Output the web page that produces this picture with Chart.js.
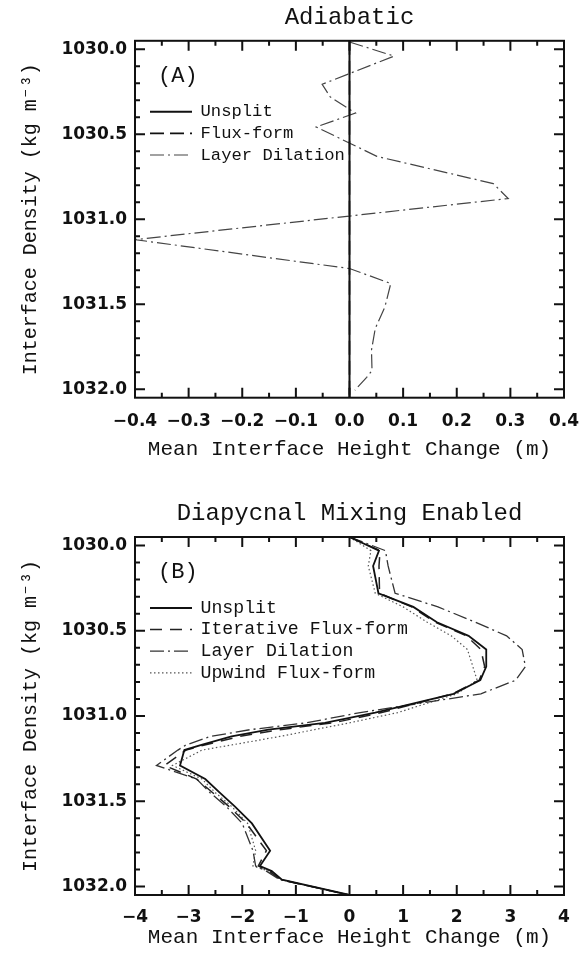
<!doctype html>
<html lang="en">
<head>
<meta charset="utf-8">
<title>Mean interface height change</title>
<script src="https://cdn.jsdelivr.net/npm/chart.js"></script>
<style>
  html, body { margin: 0; padding: 0; background: #fff; }
  .panel { position: absolute; left: 0; }
</style>
</head>
<body>
<div class="panel" style="top:0"><canvas id="chartA" width="585" height="480"></canvas></div>
<div class="panel" style="top:480px"><canvas id="chartB" width="585" height="476"></canvas></div>

<script>
// ---- panel A: adiabatic ----
var zeroDensA = [1029.95, 1032.05];
var unsplitA = [0, 0];
var fluxA = [0, 0];

var densA = [1029.957, 1030.04, 1030.206, 1030.24, 1030.28, 1030.375, 1030.457, 1030.63, 1030.79, 1030.878,
             1031.12, 1031.29, 1031.378, 1031.516, 1031.643, 1031.77, 1031.89, 1031.93, 1032.006];
var dilationA = [0.0, 0.083, -0.051, -0.044, -0.036, 0.011, -0.062, 0.051, 0.268, 0.296,
                 -0.40, 0.0, 0.077, 0.066, 0.048, 0.041, 0.042, 0.032, 0.010];

var xTicksA = [-0.4, -0.3, -0.2, -0.1, 0.0, 0.1, 0.2, 0.3, 0.4];

// ---- panel B: diapycnal mixing enabled ----
var densB = [1029.95, 1030.03, 1030.12, 1030.28, 1030.36, 1030.45, 1030.53, 1030.61, 1030.71, 1030.79,
             1030.87, 1030.98, 1031.04, 1031.08, 1031.12, 1031.17, 1031.20, 1031.29, 1031.37, 1031.45,
             1031.53, 1031.63, 1031.79, 1031.88, 1031.91, 1031.96, 1032.05];
var unsplitB = [0.0, 0.55, 0.44, 0.54, 1.19, 1.63, 2.22, 2.55, 2.55, 2.44,
                1.94, 0.48, -0.46, -1.51, -2.20, -2.76, -3.08, -3.16, -2.69, -2.42,
                -2.14, -1.82, -1.48, -1.67, -1.45, -1.26, 0.0];
var iterativeB = [0.0, 0.57, 0.55, 0.56, 1.16, 1.60, 2.18, 2.45, 2.52, 2.42,
                  1.92, 0.60, -0.30, -1.30, -2.05, -2.70, -3.05, -3.45, -2.85, -2.55,
                  -2.25, -1.92, -1.55, -1.70, -1.50, -1.28, 0.0];
var dilationB = [0.0, 0.67, 0.72, 0.85, 1.65, 2.35, 2.93, 3.22, 3.28, 3.10,
                 2.45, 0.20, -0.80, -1.85, -2.60, -3.05, -3.20, -3.60, -2.85, -2.60,
                 -2.30, -2.00, -1.80, -1.75, -1.55, -1.30, 0.0];
var upwindB = [0.0, 0.40, 0.35, 0.48, 1.00, 1.45, 1.90, 2.20, 2.30, 2.38,
               2.00, 0.90, 0.00, -0.65, -1.30, -2.20, -2.75, -3.30, -2.75, -2.50,
               -2.20, -1.90, -1.75, -1.80, -1.50, -1.28, 0.0];

var xTicksB = [-4, -3, -2, -1, 0, 1, 2, 3, 4];
var yTicks = [1030.0, 1030.5, 1031.0, 1031.5, 1032.0];

var serif = '"Liberation Mono", "DejaVu Sans Mono", monospace';
var tickFont = { family: '"DejaVu Sans", sans-serif', size: 17, weight: 'bold' };

function pts(xs, ys) {
  return xs.map(function (v, i) { return { x: v, y: ys[i] }; });
}

function minus(s) { return s.replace('-', '\u2212'); }

// frame, inward ticks on all four sides, panel letter and legend
var framePlugin = {
  id: 'frame',
  afterDraw: function (chart, args, opts) {
    var ctx = chart.ctx, a = chart.chartArea;
    ctx.save();
    ctx.strokeStyle = '#111';
    ctx.lineWidth = 2;
    ctx.setLineDash([]);
    ctx.strokeRect(a.left, a.top, a.right - a.left, a.bottom - a.top);

    function marks(scale, minor, horiz) {
      var majors = scale.ticks.map(function (t) { return t.value; });
      var i0 = Math.ceil(scale.min / minor - 1e-6), i1 = Math.floor(scale.max / minor + 1e-6);
      ctx.beginPath();
      for (var i = i0; i <= i1; i++) {
        var v = i * minor;
        var big = majors.some(function (m) { return Math.abs(m - v) < minor / 10; });
        var len = big ? 10 : 5;
        var p = scale.getPixelForValue(v);
        if (horiz) {
          ctx.moveTo(p, a.bottom); ctx.lineTo(p, a.bottom - len);
          ctx.moveTo(p, a.top); ctx.lineTo(p, a.top + len);
        } else {
          ctx.moveTo(a.left, p); ctx.lineTo(a.left + len, p);
          ctx.moveTo(a.right, p); ctx.lineTo(a.right - len, p);
        }
      }
      ctx.stroke();
    }
    marks(chart.scales.x, opts.xMinor, true);
    marks(chart.scales.y, opts.yMinor, false);

    ctx.fillStyle = '#111';
    ctx.textBaseline = 'middle';
    ctx.textAlign = 'left';
    ctx.font = '22px ' + serif;
    ctx.fillText(opts.panel, a.left + 23, a.top + 35);

    ctx.font = opts.legendSize + 'px ' + serif;
    var row = 0;
    chart.data.datasets.forEach(function (ds) {
      var y = a.top + 71 + row * 21.6;
      row++;
      ctx.strokeStyle = ds.borderColor;
      ctx.lineWidth = ds.borderWidth;
      ctx.setLineDash(ds.borderDash || []);
      ctx.beginPath();
      ctx.moveTo(a.left + 15, y);
      ctx.lineTo(a.left + 57, y);
      ctx.stroke();
      ctx.setLineDash([]);
      ctx.fillText(ds.label, a.left + 65.5, y);
    });
    ctx.restore();
  }
};

function makeChart(id, cfg) {
  return new Chart(document.getElementById(id).getContext('2d'), {
    type: 'scatter',
    data: { datasets: cfg.datasets },
    plugins: [framePlugin],
    options: {
      responsive: false,
      animation: false,
      layout: { padding: { left: 0, right: 21, top: 0, bottom: 0 } },
      elements: { point: { radius: 0 }, line: { tension: 0 } },
      plugins: {
        legend: { display: false },
        tooltip: { enabled: false },
        title: {
          display: true,
          text: cfg.title,
          fullSize: false,
          color: '#111',
          font: { family: serif, size: 24, weight: 'normal' },
          padding: cfg.titlePad
        },
        frame: { panel: cfg.panel, xMinor: cfg.xMinor, yMinor: 0.1, legendSize: cfg.legendSize }
      },
      scales: {
        x: {
          type: 'linear',
          min: cfg.xTicks[0],
          max: cfg.xTicks[cfg.xTicks.length - 1],
          grid: { display: false, drawTicks: false },
          border: { display: false },
          afterFit: function (s) { s.height = cfg.xHeight; s.paddingLeft = 0; s.paddingRight = 0; },
          afterBuildTicks: function (s) { s.ticks = cfg.xTicks.map(function (v) { return { value: v }; }); },
          ticks: {
            autoSkip: false,
            maxRotation: 0,
            padding: cfg.xTickPad,
            color: '#111',
            font: tickFont,
            callback: function (v) { return minus(Number(v).toFixed(cfg.xDigits)); }
          },
          title: {
            display: true,
            text: 'Mean Interface Height Change (m)',
            color: '#111',
            font: { family: serif, size: 21, weight: 'normal' },
            padding: { top: 0, bottom: cfg.xTitlePad }
          }
        },
        y: {
          type: 'linear',
          reverse: true,
          min: 1029.95,
          max: 1032.05,
          grid: { display: false, drawTicks: false },
          border: { display: false },
          afterFit: function (s) { s.width = 135; s.paddingTop = 0; s.paddingBottom = 0; },
          afterBuildTicks: function (s) { s.ticks = yTicks.map(function (v) { return { value: v }; }); },
          ticks: {
            padding: 8,
            color: '#111',
            font: tickFont,
            callback: function (v) { return Number(v).toFixed(1); }
          },
          title: {
            display: true,
            text: 'Interface Density (kg m\u207B\u00B3)',
            color: '#111',
            font: { family: serif, size: 20, weight: 'normal' },
            padding: { top: 19, bottom: 0 }
          }
        }
      }
    }
  });
}

makeChart('chartA', {
  title: 'Adiabatic',
  panel: '(A)',
  titlePad: { top: 3, bottom: 9 },
  xTicks: xTicksA, xDigits: 1, xMinor: 0.05,
  xHeight: 82.3, xTickPad: 14, xTitlePad: 18,
  legendSize: 17.2,
  datasets: [
    { label: 'Unsplit', data: pts(unsplitA, zeroDensA), showLine: true,
      borderColor: '#111', borderWidth: 2 },
    { label: 'Flux-form', data: pts(fluxA, zeroDensA), showLine: true,
      borderColor: '#111', borderWidth: 1.6, borderDash: [14, 6] },
    { label: 'Layer Dilation', data: pts(dilationA, densA), showLine: true,
      borderColor: '#444', borderWidth: 1.2, borderDash: [14, 4, 2, 4] }
  ]
});

makeChart('chartB', {
  title: 'Diapycnal Mixing Enabled',
  panel: '(B)',
  titlePad: { top: 19.6, bottom: 8.6 },
  xTicks: xTicksB, xDigits: 0, xMinor: 0.5,
  xHeight: 61, xTickPad: 12, xTitlePad: 6,
  legendSize: 18.2,
  datasets: [
    { label: 'Unsplit', data: pts(unsplitB, densB), showLine: true,
      borderColor: '#111', borderWidth: 1.8 },
    { label: 'Iterative Flux-form', data: pts(iterativeB, densB), showLine: true,
      borderColor: '#222', borderWidth: 1.5, borderDash: [12, 8] },
    { label: 'Layer Dilation', data: pts(dilationB, densB), showLine: true,
      borderColor: '#333', borderWidth: 1.3, borderDash: [14, 4, 2, 4] },
    { label: 'Upwind Flux-form', data: pts(upwindB, densB), showLine: true,
      borderColor: '#555', borderWidth: 1.2, borderDash: [1.5, 2.5] }
  ]
});
</script>
</body>
</html>
